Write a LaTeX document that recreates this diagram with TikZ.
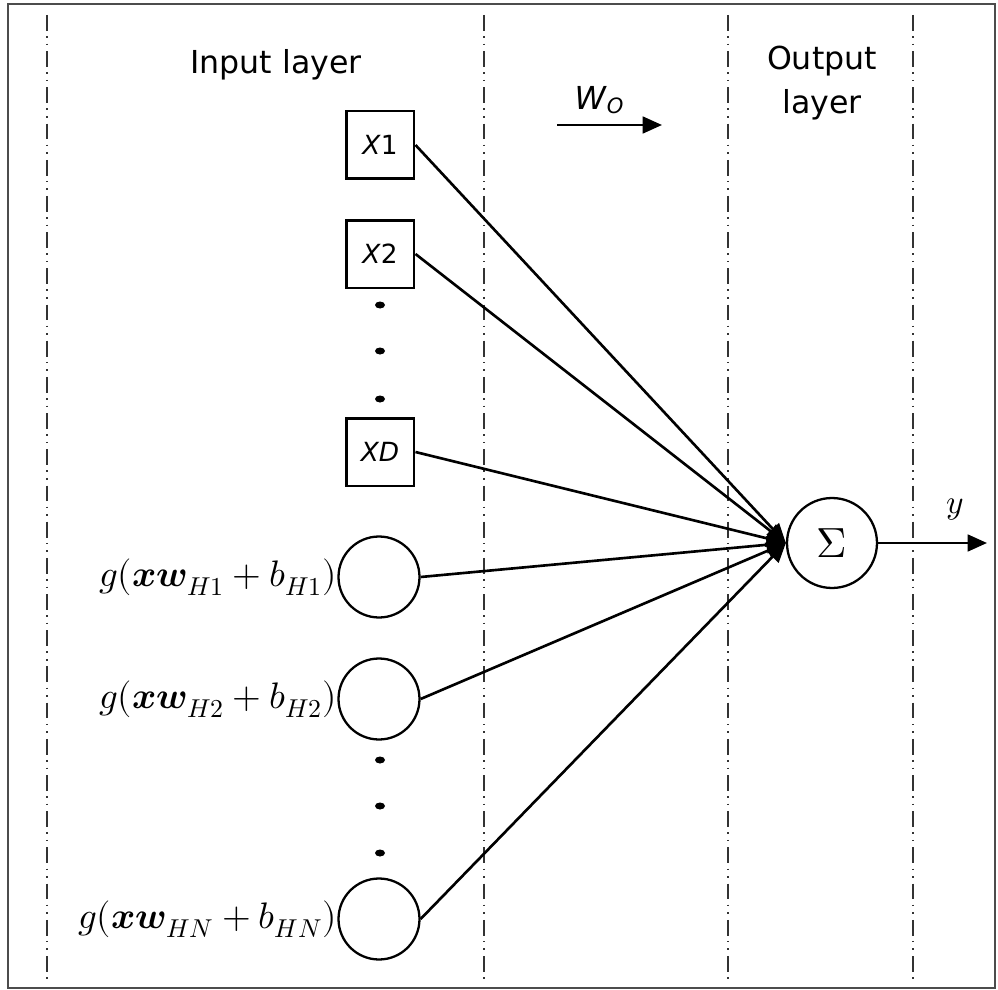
\documentclass[tikz,border=0pt]{standalone}
\usepackage{fontspec}
\usepackage{unicode-math}
\setmainfont{DejaVu Sans}
\setmathfont{Latin Modern Math}
\usepackage{tikz}
\usetikzlibrary{positioning, arrows.meta}
\tikzset{
	layerline/.style={line width=0.8pt, black!80, dash pattern=on 9pt off 3pt on 0.9pt off 3.4pt on 0.9pt off 3.4pt}
}
\tikzset{
	inbox/.style={draw, line width=1.7pt, minimum size=1.36cm, inner sep=0pt, font=\fontsize{15}{15}\selectfont},
	hidnode/.style={draw, circle, line width=1.3pt, minimum size=1.62cm, inner sep=0pt},
	sumnode/.style={draw, circle, line width=1.3pt, minimum size=1.8cm, inner sep=0pt, font=\fontsize{24}{24}\selectfont}
}
\tikzset{
	conn/.style={line width=1.5pt, -{Triangle[length=11pt,width=9.5pt]}},
	layertext/.style={font=\fontsize{18}{25}\selectfont, align=center},
	actlabel/.style={inner sep=0pt, font=\fontsize{21}{21}\selectfont}
}
\newcommand{\insub}[1]{{\fontsize{12}{12}\selectfont #1}}

\begin{document}
\begin{tikzpicture}[x=0.02cm, y=-0.02cm]
      \useasboundingbox (0,0) rectangle (998,990);
      % frame and layer borders
      \draw[gray!60!black, line width=1.1pt] (8,4) rectangle (995,988);
      \foreach \lx in {47,484,728,913} {
        \draw[layerline] (\lx,15) -- (\lx,984);
      }
      % layer titles
      \node[layertext] (intitle) at (276,65) {Input layer};
      \node[layertext] (outtitle) at (822,83) {Output\\layer};
      % weight arrow
      \coordinate (wo-start) at (557,125);
      \coordinate (wo-end) at (662,125);
      \draw[conn] (wo-start) -- (wo-end);
      \node[font=\fontsize{18}{18}\selectfont] (wolab) at (599,100) {\textit{W}\raisebox{-2pt}{\insub{\textit{O}}}};
      % input nodes
      \node[inbox] (x1) at (380,145) {\textit{X}1};
      \node[inbox] (x2) at (380,254) {\textit{X}2};
      \node[inbox] (xD) at (380,452) {\textit{XD}};
      \foreach \dy in {305,351,399} {
        \fill (380,\dy) ellipse (5 and 3.5);
      }
      % hidden nodes with activations
      \node[hidnode] (h1) at (379,577) {};
      \node[hidnode] (h2) at (379,699) {};
      \node[hidnode] (hN) at (379,919) {};
      \foreach \dy in {760,806,853} {
        \fill (380,\dy) ellipse (5 and 3.5);
      }
      \node[actlabel, left=0pt of h1] (g1) {$g(\symbfit{xw}_{H1}+b_{H1})$};
      \node[actlabel, left=0pt of h2] (g2) {$g(\symbfit{xw}_{H2}+b_{H2})$};
      \node[actlabel, left=0pt of hN] (gN) {$g(\symbfit{xw}_{HN}+b_{HN})$};
      % output node
      \node[sumnode] (sum) at (832,543) {$\Sigma$};
      \foreach \n in {x1,x2,xD,h1,h2,hN} {
        \draw[conn] (\n.east) -- (sum.west);
      }
      \coordinate (yend) at (987,543);
      \draw[conn] (sum) -- (yend);
      \node[font=\fontsize{19}{19}\selectfont] (ylab) at (955,510) {$y$};
    \end{tikzpicture}
\end{document}
